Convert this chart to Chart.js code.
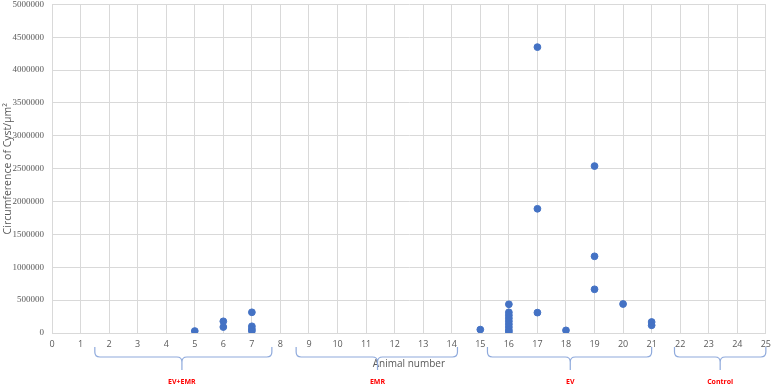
<!DOCTYPE html>
<html>
<head>
<meta charset="utf-8">
<script src="https://cdn.jsdelivr.net/npm/chart.js@4.4.0/dist/chart.umd.min.js"></script>
<style>
  body { margin: 0; background: #fff; }
  #wrap { width: 777px; height: 389px; }
</style>
</head>
<body>
<div id="wrap"><canvas id="myChart" width="777" height="389"></canvas></div>
<script>
// animal number and circumference values
var animal = [5, 6, 6, 7, 7, 7, 7, 15, 16, 16, 16, 16, 16, 16, 16, 16, 16, 17, 17, 17, 18, 19, 19, 19, 20, 21, 21];
var circ = [30000, 178000, 91000, 315000, 102000, 60000, 30000, 52000,
    437000, 315000, 270000, 225000, 180000, 135000, 90000, 45000, 15000,
    4350000, 1890000, 310000, 40000, 2540000, 1167000, 665000, 441000, 167000, 117000];

// groups under the x axis (range in animal numbers)
var grupos = ['EV+EMR', 'EMR', 'EV', 'Control'];
var grupoInicio = [1.5, 8.55, 15.25, 21.8];
var grupoFin = [7.7, 14.2, 21.0, 25.0];
var grupoPunta = [4.55, 11.4, 18.15, 23.4];

var yMax = 5000000;
var yPaso = 500000;

var puntos = [];
animal.forEach(function(a, i){
    puntos.push({x: a, y: circ[i]});
});

// draws the curly braces and the red group labels
var llaves = {
    id: 'llaves',
    afterDraw: function(chart){
        var ctx = chart.ctx;
        var xs = chart.scales.x;
        var top = chart.chartArea.bottom + 14;
        var mid = top + 10;
        var tip = top + 23;
        var r = 5;
        ctx.save();
        ctx.strokeStyle = '#8faadc';
        ctx.lineWidth = 1.2;
        for (var i = 0; i < grupos.length; i++) {
            var a = xs.getPixelForValue(grupoInicio[i]);
            var b = xs.getPixelForValue(grupoFin[i]);
            var c = xs.getPixelForValue(grupoPunta[i]);
            ctx.beginPath();
            ctx.moveTo(a, top);
            ctx.lineTo(a, mid - r);
            ctx.quadraticCurveTo(a, mid, a + r, mid);
            ctx.lineTo(c - r, mid);
            ctx.quadraticCurveTo(c, mid, c, mid + r);
            ctx.lineTo(c, tip);
            ctx.moveTo(c, mid + r);
            ctx.quadraticCurveTo(c, mid, c + r, mid);
            ctx.lineTo(b - r, mid);
            ctx.quadraticCurveTo(b, mid, b, mid - r);
            ctx.lineTo(b, top);
            ctx.stroke();

            ctx.fillStyle = '#ff0000';
            ctx.font = 'bold 7px "Open Sans", sans-serif';
            ctx.textAlign = 'center';
            ctx.textBaseline = 'middle';
            ctx.fillText(grupos[i], c, chart.chartArea.bottom + 49);
        }
        ctx.restore();
    }
};

var ctx = document.getElementById('myChart');
var chart = new Chart(ctx, {
    type: 'scatter',
    data: {
        datasets: [{
            label: 'Circumference',
            data: puntos,
            backgroundColor: '#4472c4',
            borderColor: '#4472c4',
            pointRadius: 3.4,
            pointHoverRadius: 3.4
        }]
    },
    options: {
        responsive: false,
        animation: false,
        layout: {
            padding: {top: 4, right: 5, left: 0, bottom: 0}
        },
        plugins: {
            legend: {display: false},
            tooltip: {enabled: false}
        },
        scales: {
            x: {
                type: 'linear',
                min: 0,
                max: 25,
                afterFit: function(s){ s.height = 56; },
                ticks: {
                    stepSize: 1,
                    padding: 6,
                    color: '#595959',
                    font: {family: 'Open Sans', size: 9}
                },
                grid: {color: '#d9d9d9', drawTicks: false},
                border: {color: '#d9d9d9'},
                title: {
                    display: true,
                    text: 'Animal number',
                    color: '#595959',
                    font: {family: 'Open Sans', size: 10},
                    padding: {top: 0, bottom: 19}
                }
            },
            y: {
                min: 0,
                max: yMax,
                afterFit: function(s){ s.width = 52; s.paddingTop = 0; },
                ticks: {
                    stepSize: yPaso,
                    padding: 8,
                    color: '#595959',
                    font: {family: 'Liberation Sans Narrow', size: 9},
                    callback: function(v){ return String(v); }
                },
                grid: {color: '#d9d9d9', drawTicks: false},
                border: {color: '#d9d9d9'},
                title: {
                    display: true,
                    text: 'Circumference of Cyst/\u03bcm\u00b2',
                    color: '#595959',
                    font: {family: 'Open Sans', size: 10.5},
                    padding: {top: 2, bottom: 0}
                }
            }
        }
    },
    plugins: [llaves]
});
</script>
</body>
</html>
